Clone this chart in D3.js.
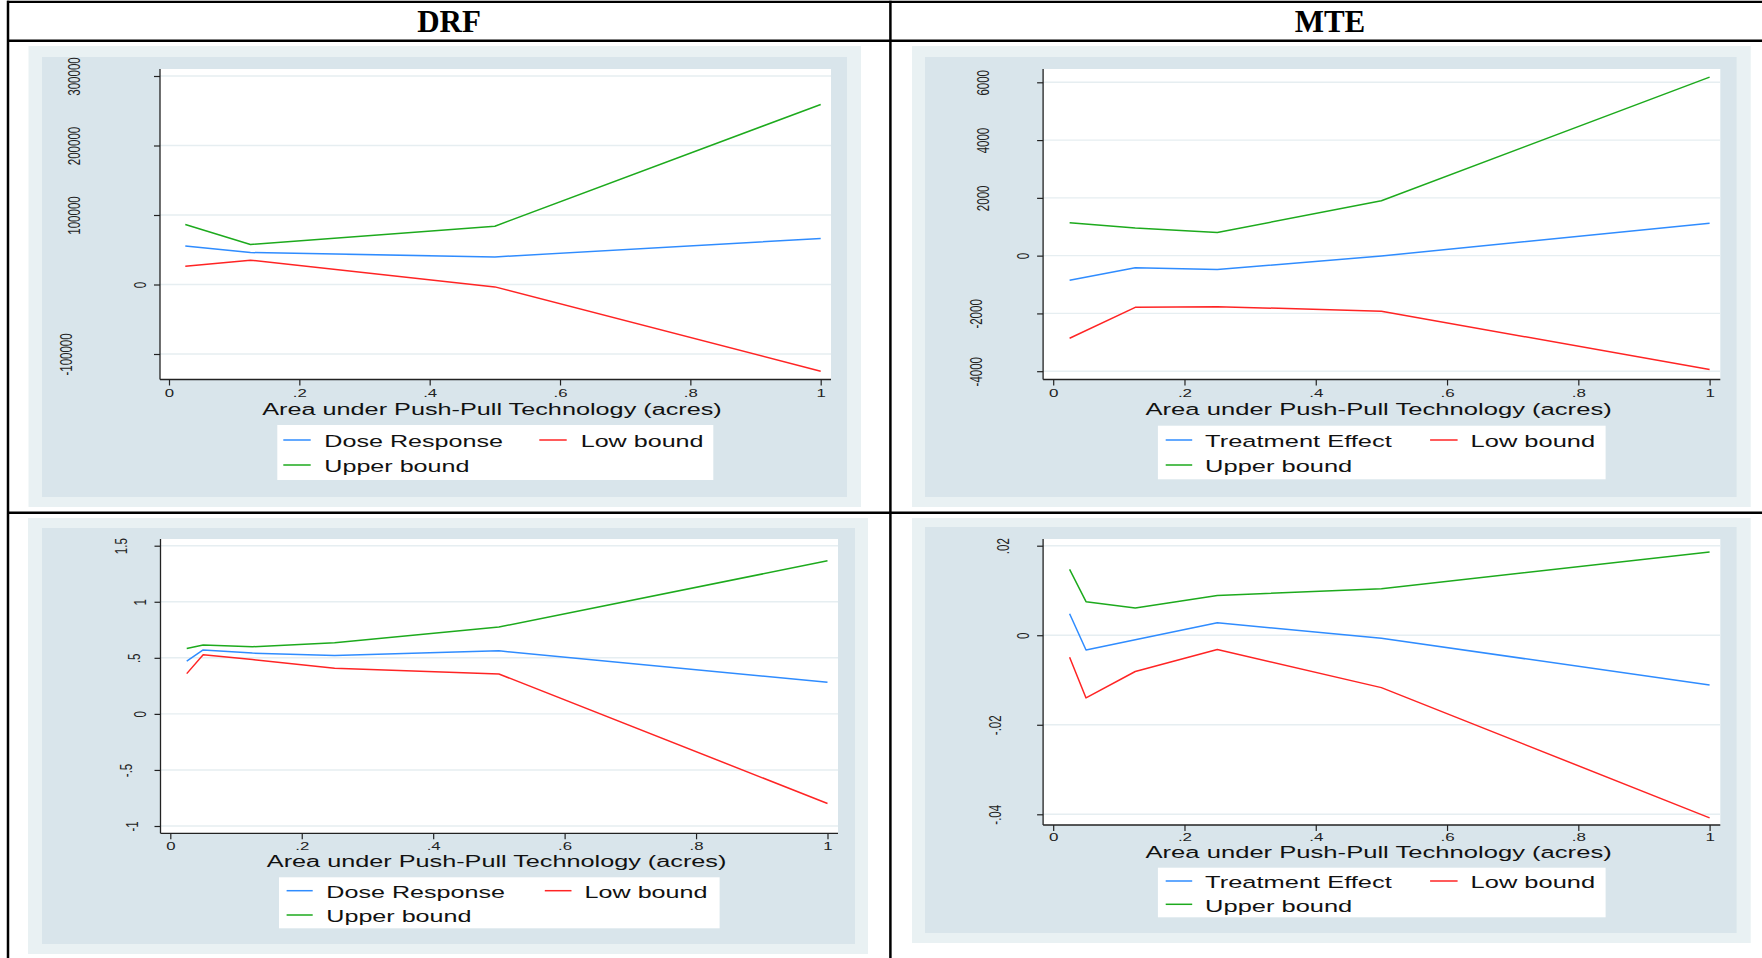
<!DOCTYPE html>
<html><head><meta charset="utf-8">
<script src="https://cdn.jsdelivr.net/npm/d3@7"></script>
<style>body{margin:0;background:#fff;} svg{display:block}</style>
</head><body>
<svg id="c" width="1762" height="958"></svg>
<script>
// ---------- data ----------
const headers = ["DRF", "MTE"];
const xTicks = [0, 0.2, 0.4, 0.6, 0.8, 1];
const xTitle = "Area under Push-Pull Technology (acres)";
const drfLegend = ["Dose Response", "Low bound", "Upper bound"];
const mteLegend = ["Treatment Effect", "Low bound", "Upper bound"];

const drfTopX = [0.025, 0.125, 0.5, 1];
const drfTopDose = [55500, 46000, 39700, 66200];
const drfTopLow = [26300, 35000, -3450, -124700];
const drfTopUp = [86300, 57550, 83900, 259000];
const drfTopYTicks = [-100000, 0, 100000, 200000, 300000];

const mteTopX = [0.025, 0.125, 0.25, 0.5, 1];
const mteTopEffect = [-855, -420, -483, -12, 1118];
const mteTopLow = [-2860, -1790, -1765, -1925, -3945];
const mteTopUp = [1140, 960, 800, 1900, 6180];
const mteTopYTicks = [-4000, -2000, 0, 2000, 4000, 6000];

const drfBotX = [0.025, 0.05, 0.125, 0.25, 0.5, 1];
const drfBotDose = [0.471, 0.570, 0.542, 0.521, 0.562, 0.282];
const drfBotLow = [0.359, 0.527, 0.485, 0.407, 0.356, -0.799];
const drfBotUp = [0.584, 0.614, 0.599, 0.635, 0.775, 1.365];
const drfBotYTicks = [-1, -0.5, 0, 0.5, 1, 1.5];

const mteBotX = [0.025, 0.05, 0.125, 0.25, 0.5, 1];
const mteBotEffect = [0.0048, -0.0033, -0.0010, 0.0028, -0.0007, -0.0111];
const mteBotLow = [-0.0049, -0.0140, -0.0081, -0.0032, -0.0117, -0.0408];
const mteBotUp = [0.0147, 0.0075, 0.0061, 0.0089, 0.0104, 0.0186];
const mteBotYTicks = [-0.04, -0.02, 0, 0.02];

// ---------- styling ----------
const colors = ["#2f8cff", "#ff2424", "#1daa1d"]; // estimate, low, upper
const SANS = "'Liberation Sans', Arial, sans-serif";
const SERIF = "'Liberation Serif', 'Times New Roman', serif";

function fmt(v) {
  let s = String(+(+v).toFixed(6));
  return s.replace(/^(-?)0\./, "$1.");
}

const legR = {x: 1157.9, w: 447.7, s1: [7.8, 34.3], t1: 47.2, s2: [272.2, 299.7], t2: 312.7};

const panels = [
  {x: drfTopX, series: [drfTopDose, drfTopLow, drfTopUp], yTicks: drfTopYTicks, legend: drfLegend,
   outer: [28.5, 46, 861, 507], inner: [42, 57, 847, 497], plot: [160, 69, 831, 379.5],
   xr: [169, 820.7], yd: [-100000, 300000], yr: [354, 76], sx: 1.46, xLabY: 397.3, titleY: 415, titleX: 492,
   leg: {x: 277.3, y: 425, w: 436, h: 55, r1: 15, r2: 40, s1: [6, 33.4], t1: 47, s2: [262, 289.4], t2: 303.4}},
  {x: mteTopX, series: [mteTopEffect, mteTopLow, mteTopUp], yTicks: mteTopYTicks, legend: mteLegend,
   outer: [912, 46, 1750.7, 507], inner: [925, 57, 1736.6, 497], plot: [1043.1, 69, 1720.3, 379.5],
   xr: [1053.2, 1709.6], yd: [-4000, 6000], yr: [371.2, 82.3], sx: 1.48, xLabY: 397.3, titleY: 415, titleX: 1378.6,
   leg: Object.assign({y: 425.7, h: 53.6, r1: 14.3, r2: 39.3}, legR)},
  {x: drfBotX, series: [drfBotDose, drfBotLow, drfBotUp], yTicks: drfBotYTicks, legend: drfLegend,
   outer: [28, 518, 868, 954], inner: [42, 528, 855, 944], plot: [160.5, 539, 838, 833.3],
   xr: [170.3, 827.5], yd: [-1, 1.5], yr: [826, 545.7], sx: 1.46, xLabY: 850, titleY: 866.7, titleX: 496.6,
   leg: {x: 279, y: 877.3, w: 440.6, h: 51, r1: 13.4, r2: 37.7, s1: [7.6, 33.7], t1: 47.3, s2: [265.8, 292.5], t2: 305.6}},
  {x: mteBotX, series: [mteBotEffect, mteBotLow, mteBotUp], yTicks: mteBotYTicks, legend: mteLegend,
   outer: [912, 518, 1750.7, 943], inner: [925, 527, 1736.6, 933], plot: [1043.1, 539, 1720.3, 825],
   xr: [1053.2, 1709.6], yd: [-0.04, 0.02], yr: [814.3, 545.7], sx: 1.48, xLabY: 840.7, titleY: 858.3, titleX: 1378.6,
   leg: Object.assign({y: 867.7, h: 49.6, r1: 13.3, r2: 36.6}, legR)}
];

const svg = d3.select("#c");
svg.append("rect").attr("width", 1762).attr("height", 958).attr("fill", "#fff");

panels.forEach(p => {
  const g = svg.append("g");
  const rect = (r, fill) => g.append("rect").attr("x", r[0]).attr("y", r[1])
    .attr("width", r[2] - r[0]).attr("height", r[3] - r[1]).attr("fill", fill);
  rect(p.outer, "#e9f1f3");
  rect(p.inner, "#d9e5eb");
  rect(p.plot, "#ffffff");

  const x = d3.scaleLinear().domain([0, 1]).range(p.xr);
  const y = d3.scaleLinear().domain(p.yd).range(p.yr);
  const [px0, py0, px1, py1] = p.plot;

  // gridlines
  g.append("g").selectAll("line").data(p.yTicks).join("line")
    .attr("x1", px0).attr("x2", px1).attr("y1", d => y(d)).attr("y2", d => y(d))
    .attr("stroke", "#e6eef1").attr("stroke-width", 1.4);

  // y axis
  const ya = g.append("g").attr("transform", `translate(${px0},0)`)
    .call(d3.axisLeft(y).tickValues(p.yTicks).tickSize(6).tickSizeOuter(0).tickFormat(fmt));
  ya.select(".domain").remove();
  ya.selectAll(".tick line").attr("stroke", "#222").attr("stroke-width", 1.2);
  ya.selectAll(".tick text")
    .attr("font-family", SANS).attr("font-size", 11.5).attr("fill", "#222")
    .attr("x", null).attr("dy", null).attr("text-anchor", "middle")
    .attr("dominant-baseline", "central")
    .each(function () {
      const L = this.getComputedTextLength();
      const off = 7 + 2.05 * L;
      d3.select(this).attr("transform", `translate(${-off},0) scale(${p.sx},1) rotate(-90)`);
    });

  // x axis
  const xa = g.append("g").attr("transform", `translate(0,${py1})`)
    .call(d3.axisBottom(x).tickValues(xTicks).tickSize(6).tickSizeOuter(0).tickFormat(fmt));
  xa.select(".domain").remove();
  xa.selectAll(".tick line").attr("stroke", "#222").attr("stroke-width", 1.2);
  xa.selectAll(".tick text")
    .attr("font-family", SANS).attr("font-size", 11.5).attr("fill", "#222")
    .attr("y", null).attr("dy", null).attr("text-anchor", "middle")
    .attr("transform", `translate(0,${p.xLabY - py1}) scale(${p.sx},1)`);

  // axis lines
  g.append("line").attr("x1", px0).attr("x2", px0).attr("y1", py0).attr("y2", py1)
    .attr("stroke", "#222").attr("stroke-width", 1.3);
  g.append("line").attr("x1", px0).attr("x2", px1).attr("y1", py1).attr("y2", py1)
    .attr("stroke", "#222").attr("stroke-width", 1.3);

  // axis title
  g.append("text").attr("text-anchor", "middle").attr("font-family", SANS)
    .attr("font-size", 17.3).attr("fill", "#111")
    .attr("transform", `translate(${p.titleX},${p.titleY}) scale(${p.sx},1)`)
    .text(xTitle);

  // series lines
  const line = d3.line().x((d, i) => x(p.x[i])).y(d => y(d));
  p.series.forEach((s, k) => {
    g.append("path").datum(s).attr("d", line).attr("fill", "none")
      .attr("stroke", colors[k]).attr("stroke-width", 1.5).attr("stroke-linejoin", "round");
  });

  // legend
  const L = p.leg;
  const lg = g.append("g").attr("transform", `translate(${L.x},${L.y})`);
  lg.append("rect").attr("width", L.w).attr("height", L.h).attr("fill", "#fff");
  const items = [
    {name: p.legend[0], c: colors[0], s: L.s1, t: L.t1, r: L.r1},
    {name: p.legend[1], c: colors[1], s: L.s2, t: L.t2, r: L.r1},
    {name: p.legend[2], c: colors[2], s: L.s1, t: L.t1, r: L.r2}
  ];
  items.forEach(it => {
    lg.append("line").attr("x1", it.s[0]).attr("x2", it.s[1]).attr("y1", it.r).attr("y2", it.r)
      .attr("stroke", it.c).attr("stroke-width", 1.5);
    lg.append("text").attr("font-family", SANS).attr("font-size", 17.2).attr("fill", "#111")
      .attr("transform", `translate(${it.t},${it.r + 7.4}) scale(${p.sx},1)`)
      .text(it.name);
  });
});

// ---------- table frame & headers ----------
const frame = svg.append("g").attr("stroke", "#000");
frame.append("line").attr("x1", 7).attr("x2", 1762).attr("y1", 1.8).attr("y2", 1.8).attr("stroke-width", 2.2);
frame.append("line").attr("x1", 7).attr("x2", 1762).attr("y1", 40.7).attr("y2", 40.7).attr("stroke-width", 2.6);
frame.append("line").attr("x1", 7).attr("x2", 1762).attr("y1", 512.8).attr("y2", 512.8).attr("stroke-width", 2.6);
frame.append("line").attr("x1", 8).attr("x2", 8).attr("y1", 0.7).attr("y2", 958).attr("stroke-width", 2.5);
frame.append("line").attr("x1", 890.4).attr("x2", 890.4).attr("y1", 0.7).attr("y2", 958).attr("stroke-width", 2.5);

const headerX = [449, 1330];
headers.forEach((h, i) => {
  svg.append("text").attr("x", headerX[i]).attr("y", 32.3).attr("text-anchor", "middle")
    .attr("font-family", SERIF).attr("font-weight", "bold").attr("font-size", 31)
    .attr("fill", "#000").text(h);
});
</script>
</body></html>
